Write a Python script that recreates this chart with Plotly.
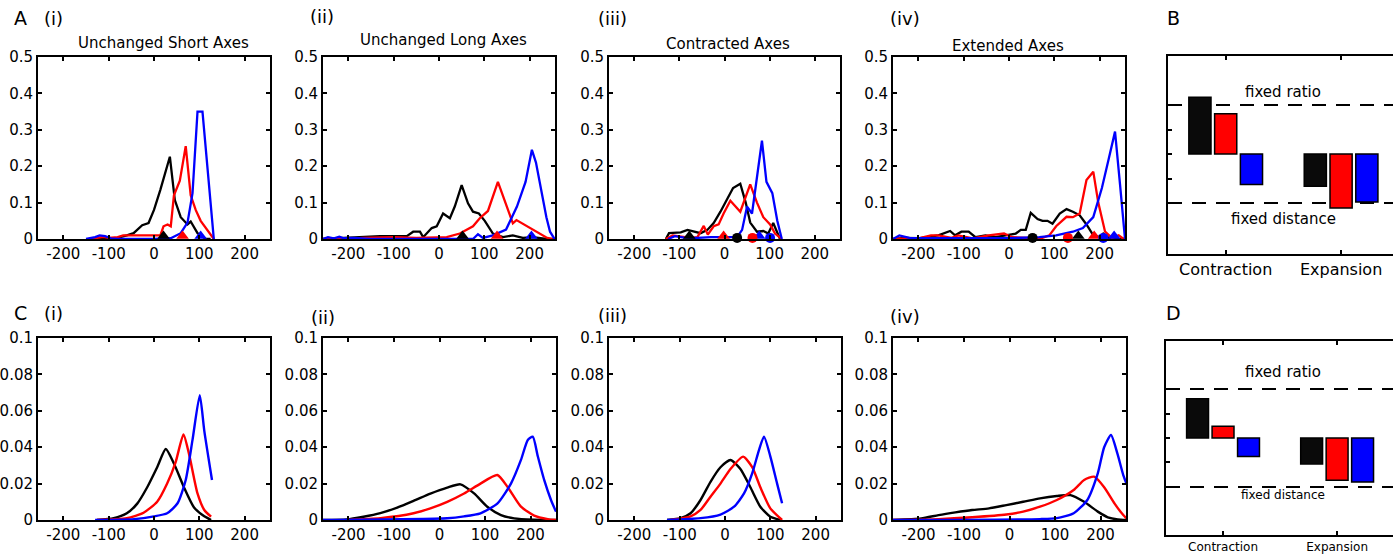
import plotly.graph_objects as go

# ---------------- data ----------------
X_TICKS = [-200, -100, 0, 100, 200]
X_TICK_LABELS = ["-200", "-100", "0", "100", "200"]
A_Y_TICKS = [0, 0.1, 0.2, 0.3, 0.4, 0.5]
A_Y_TICK_LABELS = ["0", "0.1", "0.2", "0.3", "0.4", "0.5"]
C_Y_TICKS = [0, 0.02, 0.04, 0.06, 0.08, 0.1]
C_Y_TICK_LABELS = ["0", "0.02", "0.04", "0.06", "0.08", "0.1"]
A_TITLES = ["Unchanged Short Axes", "Unchanged Long Axes", "Contracted Axes", "Extended Axes"]
NUMERALS = ["(i)", "(ii)", "(iii)", "(iv)"]
SERIES_COLORS = ["black", "red", "blue"]

# A(i)
A1_black_x = [-140, -90, -60, -45, -26, -12, 0, 14, 35, 46, 59, 74, 81, 96, 114, 125]
A1_black_y = [0, 0, 0.01, 0.016, 0.038, 0.044, 0.08, 0.135, 0.226, 0.107, 0.06, 0.04, 0.048, 0.016, 0, 0]
A1_red_x = [-140, -125, -112, -100, -80, -68, -40, 0, 14, 21, 30, 37, 44, 57, 70, 81, 92, 103, 118, 132]
A1_red_y = [0, 0.003, 0.006, 0.003, 0.005, 0.01, 0.01, 0.008, 0.01, 0.035, 0.04, 0.035, 0.12, 0.16, 0.255, 0.12, 0.08, 0.05, 0.025, 0]
A1_blue_x = [-150, -130, -120, -108, -95, -80, 0, 37, 59, 74, 85, 96, 107, 132]
A1_blue_y = [0, 0.005, 0.01, 0.008, 0.002, 0, 0, 0.002, 0.016, 0.045, 0.126, 0.35, 0.35, 0]
# A(ii)
A2_black_x = [-256, -189, -130, -71, -57, -42, -35, -16, -5, 9, 24, 35, 50, 64, 75, 88, 101, 119, 141, 163, 185, 207, 237, 256]
A2_black_y = [0, 0.005, 0.008, 0.008, 0.02, 0.02, 0.005, 0.03, 0.035, 0.07, 0.057, 0.09, 0.148, 0.098, 0.075, 0.07, 0.05, 0.015, 0.005, 0.01, 0.003, 0.005, 0, 0]
A2_red_x = [-256, -200, -167, -100, -50, 0, 17, 46, 75, 90, 108, 130, 163, 171, 207, 237, 251]
A2_red_y = [0, 0, 0.003, 0.005, 0.003, 0.005, 0.005, 0.015, 0.035, 0.057, 0.077, 0.157, 0.043, 0.052, 0.025, 0.004, 0]
A2_blue_x = [-256, -245, -232, -220, -210, -190, -150, 0, 75, 86, 97, 119, 148, 172, 191, 205, 214, 237, 245, 255]
A2_blue_y = [0, 0.005, 0.002, 0.006, 0.002, 0.003, 0, 0, 0, 0.013, 0.003, 0.01, 0.026, 0.089, 0.157, 0.245, 0.21, 0.06, 0.02, 0]
# A(iii)
A3_black_x = [-130, -123, -97, -82, -53, -38, -24, -9, 6, 19, 35, 47, 57, 72, 86, 97, 108, 123]
A3_black_y = [0, 0.016, 0.018, 0.025, 0.016, 0.025, 0.044, 0.075, 0.11, 0.14, 0.152, 0.1, 0.045, 0.02, 0.022, 0.015, 0.044, 0]
A3_red_x = [-130, -115, -75, -60, -46, -37, -24, -13, -2, 13, 35, 57, 72, 86, 101, 112, 127]
A3_red_y = [0, 0.01, 0.003, 0.005, 0.036, 0.012, 0.035, 0.04, 0.07, 0.105, 0.075, 0.15, 0.1, 0.06, 0.04, 0.015, 0]
A3_blue_x = [-125, -110, -90, -60, -30, 0, 28, 39, 50, 61, 72, 83, 93, 106, 117, 127]
A3_blue_y = [0, 0.008, 0.004, 0.003, 0.005, 0.005, 0.005, 0.025, 0.089, 0.07, 0.17, 0.27, 0.157, 0.126, 0.05, 0]
# A(iv)
A4_black_x = [-256, -230, -200, -180, -156, -130, -119, -105, -89, -74, -52, -30, -7, 15, 26, 37, 48, 63, 74, 85, 96, 112, 127, 141, 156, 171, 186, 201, 208, 223, 256]
A4_black_y = [0, 0.003, 0.002, 0.005, 0.01, 0.022, 0.01, 0.02, 0.02, 0.005, 0.01, 0.005, 0.01, 0.015, 0.025, 0.025, 0.072, 0.055, 0.05, 0.05, 0.042, 0.07, 0.082, 0.075, 0.065, 0.04, 0.01, 0.005, 0.015, 0, 0]
A4_red_x = [-256, -200, -172, -156, -127, -112, -80, -45, -11, 7, 40, 67, 89, 104, 127, 141, 156, 171, 186, 197, 212, 227, 242, 253]
A4_red_y = [0, 0.002, 0.01, 0.01, 0.003, 0.01, 0.002, 0.01, 0.015, 0.005, 0.003, 0, 0.01, 0.035, 0.061, 0.06, 0.07, 0.162, 0.185, 0.1, 0.02, 0.003, 0.01, 0]
A4_blue_x = [-256, -242, -220, -150, 0, 67, 104, 141, 163, 186, 205, 220, 234, 245, 256]
A4_blue_y = [0, 0.01, 0.003, 0.003, 0.002, 0.005, 0.01, 0.02, 0.03, 0.06, 0.14, 0.22, 0.295, 0.15, 0]

# baseline markers (order: black, red, blue)
A_TRIANGLES = [[21, 63, 103], [52, 128, 204], [-78, -2, 77], [153, 188, 232]]
A_CIRCLES = [None, None, [28, 62, 101], [52, 130, 208]]

# C panels (model curves)
C1_black_x = [-126, -89, -60, -37, -15, 7, 26, 44, 66, 88, 111, 126]
C1_black_y = [0, 0.001, 0.0037, 0.009, 0.018, 0.029, 0.039, 0.031, 0.018, 0.007, 0.002, 0]
C1_red_x = [-126, -60, -23, 7, 29, 48, 65, 77, 96, 111, 126]
C1_red_y = [0, 0.001, 0.004, 0.010, 0.020, 0.032, 0.047, 0.0366, 0.0146, 0.0055, 0.0018]
C1_blue_x = [-130, -44, 0, 29, 52, 70, 85, 101, 111, 128]
C1_blue_y = [0, 0.0005, 0.002, 0.0037, 0.0092, 0.022, 0.044, 0.0686, 0.049, 0.022]

C2_black_x = [-256, -204, -167, -130, -93, -57, -20, 17, 46, 76, 105, 135, 164, 208, 256]
C2_black_y = [0, 0.0003, 0.0018, 0.0038, 0.0068, 0.0105, 0.0145, 0.0178, 0.0196, 0.0146, 0.0073, 0.0027, 0.0009, 0.0002, 0]
C2_red_x = [-204, -130, -57, -20, 17, 54, 90, 127, 150, 179, 208, 238, 256]
C2_red_y = [0, 0.001, 0.0037, 0.0064, 0.010, 0.0146, 0.020, 0.0247, 0.018, 0.0073, 0.0024, 0.0005, 0]
C2_blue_x = [-256, 17, 54, 90, 127, 157, 179, 194, 205, 216, 230, 245, 256]
C2_blue_y = [0, 0.001, 0.002, 0.0037, 0.009, 0.020, 0.033, 0.044, 0.0458, 0.035, 0.022, 0.011, 0.0046]

C3_black_x = [-128, -98, -76, -54, -32, -10, 12, 34, 56, 78, 100, 123]
C3_black_y = [0, 0.001, 0.0037, 0.011, 0.021, 0.029, 0.033, 0.028, 0.018, 0.0073, 0.0018, 0]
C3_red_x = [-120, -76, -54, -32, -10, 12, 40, 60, 78, 100, 126]
C3_red_y = [0, 0.002, 0.0055, 0.0128, 0.020, 0.028, 0.0348, 0.029, 0.018, 0.0064, 0]
C3_blue_x = [-128, -54, -10, 20, 42, 60, 75, 86, 100, 115, 126]
C3_blue_y = [0, 0.001, 0.003, 0.0073, 0.0146, 0.0256, 0.0384, 0.0458, 0.035, 0.020, 0.0092]

C4_black_x = [-257, -194, -156, -119, -82, -45, -7, 30, 67, 104, 134, 164, 194, 216, 238, 257]
C4_black_y = [0, 0.0008, 0.0027, 0.0042, 0.0055, 0.0064, 0.0082, 0.010, 0.0119, 0.0132, 0.0137, 0.010, 0.0046, 0.0015, 0.0003, 0]
C4_red_x = [-257, -156, -82, -7, 30, 67, 104, 141, 164, 186, 208, 231, 250, 257]
C4_red_y = [0, 0.0005, 0.0015, 0.003, 0.0046, 0.0073, 0.011, 0.0165, 0.022, 0.0238, 0.018, 0.009, 0.0027, 0.0009]
C4_blue_x = [-257, 67, 104, 141, 171, 194, 208, 223, 237, 250, 257]
C4_blue_y = [0, 0.0005, 0.001, 0.0037, 0.011, 0.0256, 0.040, 0.0467, 0.0366, 0.0247, 0.020]

# B / D floating bars (0 = fixed distance, 1 = fixed ratio)
BAR_CATEGORIES = ["Contraction", "Expansion"]
BAR_BASE = 0.5
B_black_end = [1.08, 0.17]
B_red_end = [0.91, -0.05]
B_blue_end = [0.19, 0.01]
D_black_end = [0.90, 0.235]
D_red_end = [0.62, 0.07]
D_blue_end = [0.31, 0.05]
REF_LEVELS = [1.0, 0.0]
REF_LABELS = ["fixed ratio", "fixed distance"]
BD_Y_TICKS = [0, 0.25, 0.5, 0.75, 1.0]

# ---------------- figure ----------------
W, H = 1393, 556
FONT = "DejaVu Sans, Arial, sans-serif"
COLORS = {"black": "#000000", "red": "#ff0000", "blue": "#0000ff"}


def dx(p0, p1):
    return [p0 / W, min(p1 / W, 1.0)]


def dy(top, bottom):
    return [1 - bottom / H, 1 - top / H]


X_RANGE = [-256, 256]
A_X_DOMAINS = [dx(38, 270), dx(323, 555), dx(609, 840), dx(893, 1125)]
C_X_DOMAINS = [dx(38, 270), dx(323, 556), dx(609, 841), dx(893, 1126)]
A_Y_DOMAIN = dy(57, 239)
C_Y_DOMAIN = dy(338, 520)

A_DATA = [
    [(A1_black_x, A1_black_y), (A1_red_x, A1_red_y), (A1_blue_x, A1_blue_y)],
    [(A2_black_x, A2_black_y), (A2_red_x, A2_red_y), (A2_blue_x, A2_blue_y)],
    [(A3_black_x, A3_black_y), (A3_red_x, A3_red_y), (A3_blue_x, A3_blue_y)],
    [(A4_black_x, A4_black_y), (A4_red_x, A4_red_y), (A4_blue_x, A4_blue_y)],
]
C_DATA = [
    [(C1_black_x, C1_black_y), (C1_red_x, C1_red_y), (C1_blue_x, C1_blue_y)],
    [(C2_black_x, C2_black_y), (C2_red_x, C2_red_y), (C2_blue_x, C2_blue_y)],
    [(C3_black_x, C3_black_y), (C3_red_x, C3_red_y), (C3_blue_x, C3_blue_y)],
    [(C4_black_x, C4_black_y), (C4_red_x, C4_red_y), (C4_blue_x, C4_blue_y)],
]

fig = go.Figure()
layout = dict(
    width=W, height=H, margin=dict(l=0, r=0, t=0, b=0, autoexpand=False),
    paper_bgcolor="white", plot_bgcolor="white", showlegend=False,
    font=dict(family=FONT, size=15, color="black"),
    barmode="group", bargap=0.33, bargroupgap=0.14,
)


def ax_name(i, kind):
    return kind if i == 1 else f"{kind}{i}"


def frame(domain, rng, tickvals, ticktext, anchor, mirror="ticks", labels=True, size=15):
    return dict(
        domain=domain, range=rng, tickmode="array", tickvals=tickvals, ticktext=ticktext,
        ticks="inside", ticklen=4, tickwidth=1.5, tickcolor="black",
        showline=True, linecolor="black", linewidth=2, mirror=mirror,
        showgrid=False, zeroline=False, anchor=anchor, showticklabels=labels,
        automargin=False,
        tickfont=dict(family=FONT, size=size, color="black"), fixedrange=True,
    )


TRI_LIFT = 0.008
CIRC_LIFT = 0.003

# A panels: axes 1..4
for i in range(4):
    n = i + 1
    xa, ya = ax_name(n, "x"), ax_name(n, "y")
    layout[ax_name(n, "xaxis")] = frame(A_X_DOMAINS[i], X_RANGE, X_TICKS, X_TICK_LABELS, ya)
    layout[ax_name(n, "yaxis")] = frame(A_Y_DOMAIN, [0, 0.5], A_Y_TICKS, A_Y_TICK_LABELS, xa)
    for (xs, ys), c in zip(A_DATA[i], SERIES_COLORS):
        fig.add_trace(go.Scatter(x=xs, y=ys, mode="lines", line=dict(color=COLORS[c], width=2.3),
                                 xaxis=xa, yaxis=ya, hoverinfo="skip"))
    tri = A_TRIANGLES[i]
    fig.add_trace(go.Scatter(x=tri, y=[TRI_LIFT] * len(tri), mode="markers", cliponaxis=False,
                             marker=dict(symbol="triangle-up", size=11, color=[COLORS[c] for c in SERIES_COLORS]),
                             xaxis=xa, yaxis=ya, hoverinfo="skip"))
    if A_CIRCLES[i]:
        circ = A_CIRCLES[i]
        fig.add_trace(go.Scatter(x=circ, y=[CIRC_LIFT] * len(circ), mode="markers", cliponaxis=False,
                                 marker=dict(symbol="circle", size=10, color=[COLORS[c] for c in SERIES_COLORS]),
                                 xaxis=xa, yaxis=ya, hoverinfo="skip"))

# C panels: axes 6..9
for i in range(4):
    n = i + 6
    xa, ya = ax_name(n, "x"), ax_name(n, "y")
    layout[ax_name(n, "xaxis")] = frame(C_X_DOMAINS[i], X_RANGE, X_TICKS, X_TICK_LABELS, ya)
    layout[ax_name(n, "yaxis")] = frame(C_Y_DOMAIN, [0, 0.1], C_Y_TICKS, C_Y_TICK_LABELS, xa)
    for (xs, ys), c in zip(C_DATA[i], SERIES_COLORS):
        fig.add_trace(go.Scatter(x=xs, y=ys, mode="lines",
                                 line=dict(color=COLORS[c], width=2.4, shape="spline", smoothing=0.6),
                                 xaxis=xa, yaxis=ya, hoverinfo="skip"))

# B (5) and D (10) bar panels
BAR_PANELS = [
    (5, dx(1168, W), dy(56, 254), [-0.5, 1.45], [-0.52, 1.5], [B_black_end, B_red_end, B_blue_end], 16),
    (10, dx(1166, W), dy(341, 535), [-0.5, 1.49], [-0.49, 1.49], [D_black_end, D_red_end, D_blue_end], 12),
]
for n, xdom, ydom, xr, yr, ends_list, lab_size in BAR_PANELS:
    xa, ya = ax_name(n, "x"), ax_name(n, "y")
    xax = frame(xdom, xr, BAR_CATEGORIES, BAR_CATEGORIES, ya, size=lab_size)
    xax.update(type="category", categoryorder="array", categoryarray=BAR_CATEGORIES)
    layout[ax_name(n, "xaxis")] = xax
    layout[ax_name(n, "yaxis")] = frame(ydom, yr, BD_Y_TICKS, [""] * 5, xa, mirror=False, labels=False)
    for ends, c in zip(ends_list, SERIES_COLORS):
        fig.add_trace(go.Bar(x=BAR_CATEGORIES, y=[e - BAR_BASE for e in ends], base=BAR_BASE,
                             marker=dict(color="#0a0a0a" if c == "black" else COLORS[c],
                                         line=dict(color="black", width=1.5)),
                             offsetgroup=f"{n}{c}", xaxis=xa, yaxis=ya, hoverinfo="skip"))

shapes = []
for n in (5, 10):
    for lvl in REF_LEVELS:
        shapes.append(dict(type="line", xref=f"x{n} domain", yref=f"y{n}", x0=0, x1=1, y0=lvl, y1=lvl,
                           line=dict(color="black", width=2, dash="14px,10px"), layer="below"))
layout["shapes"] = shapes

annotations = []


def ann(text, px, py, size, xanchor="center"):
    annotations.append(dict(text=text, x=px / W, y=1 - py / H, xref="paper", yref="paper",
                            xanchor=xanchor, yanchor="middle", showarrow=False,
                            font=dict(family=FONT, size=size, color="black")))


ann("A", 20, 18, 19)
ann("B", 1173, 18, 19)
ann("C", 20, 313, 19)
ann("D", 1173, 313, 19)
A_NUM_POS = [(53, 18), (322, 16), (612, 18), (905, 18)]
C_NUM_POS = [(53, 313), (323, 317), (612, 315), (905, 316)]
for t, (px, py) in zip(NUMERALS, A_NUM_POS):
    ann(t, px, py, 18)
for t, (px, py) in zip(NUMERALS, C_NUM_POS):
    ann(t, px, py, 18)
TITLE_POS = [(163, 43), (443, 40), (728, 44), (1008, 46)]
for t, (px, py) in zip(A_TITLES, TITLE_POS):
    ann(t, px, py, 15)
ann(REF_LABELS[0], 1283, 92, 15)
ann(REF_LABELS[1], 1283, 219, 15)
ann(REF_LABELS[0], 1283, 372, 15)
ann(REF_LABELS[1], 1283, 495, 12)
layout["annotations"] = annotations

fig.update_layout(**layout)
fig.write_html("out.html", config={"displayModeBar": False},
               post_script="document.body.style.margin='0';")
